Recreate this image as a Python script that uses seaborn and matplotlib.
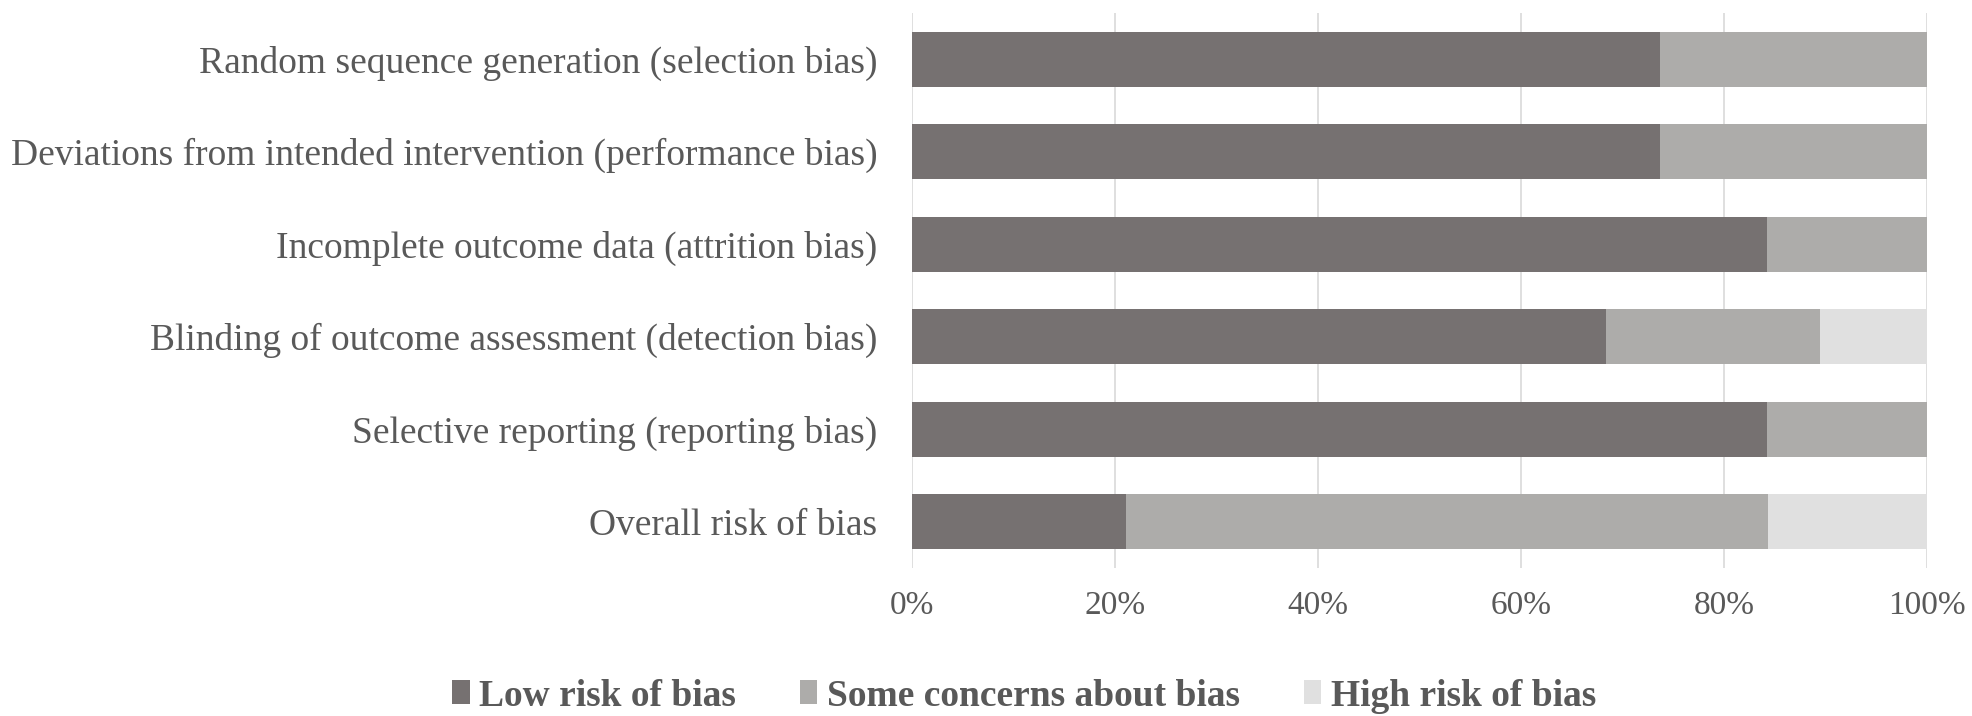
import matplotlib
matplotlib.use("Agg")
import matplotlib.pyplot as plt
import seaborn as sns
import pandas as pd
import numpy as np
from matplotlib.patches import Patch
from matplotlib.ticker import PercentFormatter

categories = [
    "Random sequence generation (selection bias)",
    "Deviations from intended intervention (performance bias)",
    "Incomplete outcome data (attrition bias)",
    "Blinding of outcome assessment (detection bias)",
    "Selective reporting (reporting bias)",
    "Overall risk of bias",
]
low = [73.7, 73.7, 84.2, 68.4, 84.2, 21.1]
some = [26.3, 26.3, 15.8, 21.1, 15.8, 63.2]
high = [0.0, 0.0, 0.0, 10.5, 0.0, 15.8]
series_names = ["Low risk of bias", "Some concerns about bias", "High risk of bias"]
colors = ["#767171", "#ADACAA", "#E0E0E0"]

sns.set_theme(style="white")
plt.rcParams['font.family'] = ['Liberation Serif', 'DejaVu Serif']

df = pd.DataFrame({"cat": categories, "low": low, "some": some, "high": high})
df["c1"] = df["low"]
df["c2"] = df["low"] + df["some"]
df["c3"] = df["low"] + df["some"] + df["high"]

fig = plt.figure(figsize=(19.72, 7.16), dpi=100)
ax = fig.add_axes([912/1972, 1 - 568/716, (1927-912)/1972, (568-13)/716])

for col, color in zip(["c3", "c2", "c1"], colors[::-1]):
    sns.barplot(data=df, y="cat", x=col, orient="h", color=color, width=0.59,
                ax=ax, saturation=1, linewidth=0)

ax.set_xlim(0, 100)
ax.set_ylim(5.5, -0.5)
ax.set_xticks([0, 20, 40, 60, 80, 100])
ax.xaxis.set_major_formatter(PercentFormatter(decimals=0))
ax.set_xlabel("")
ax.set_ylabel("")
ax.grid(axis="x", color="#D9D9D9", linewidth=1.2, zorder=0)
ax.set_axisbelow(True)
for s in ax.spines.values():
    s.set_visible(False)
ax.tick_params(axis="both", length=0, colors="#595959")
ax.tick_params(axis="y", labelsize=27, pad=25)
ax.tick_params(axis="x", labelsize=24, pad=16)
for t in ax.get_yticklabels() + ax.get_xticklabels():
    t.set_color("#595959")

handles = [Patch(facecolor=c, edgecolor="none") for c in colors]
leg = fig.legend(handles, series_names, loc="center", bbox_to_anchor=(1024/1972, 1 - 696/716),
                 ncol=3, frameon=False, handlelength=0.47, handleheight=0.6, handletextpad=0.25,
                 columnspacing=1.7, prop={"family": "Liberation Serif", "weight": "bold", "size": 27})
for t in leg.get_texts():
    t.set_color("#595959")

fig.savefig("out.png", dpi=100)
